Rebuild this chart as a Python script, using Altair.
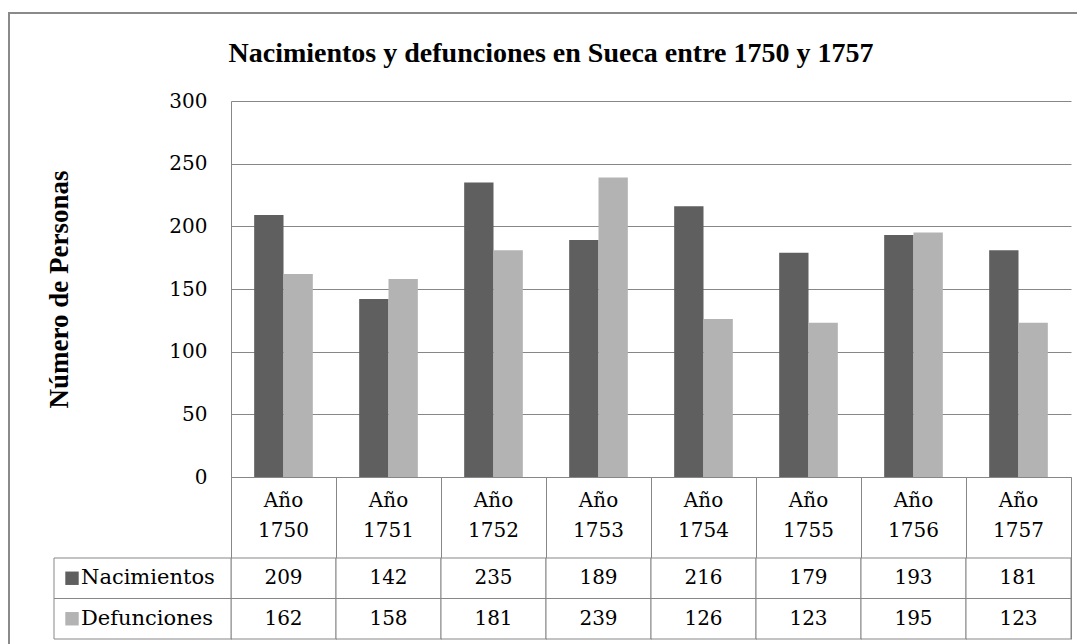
import altair as alt
import pandas as pd

# ---- data ----
years = ["1750", "1751", "1752", "1753", "1754", "1755", "1756", "1757"]
series = ["Nacimientos", "Defunciones"]
nacimientos = [209, 142, 235, 189, 216, 179, 193, 181]
defunciones = [162, 158, 181, 239, 126, 123, 195, 123]
y_ticks = [0, 50, 100, 150, 200, 250, 300]
header_word = "Año"
chart_title = "Nacimientos y defunciones en Sueca entre 1750 y 1757"
y_title = "Número de Personas"

# ---- styling ----
colors = ["#5f5f5f", "#b3b3b3"]
line = "#878787"
font = "Liberation Serif"
rfont = "DejaVu Serif"
W, H = 840, 376
TABLE_H = 162
FS = 20

rows = []
for name, vals in zip(series, [nacimientos, defunciones]):
    for yr, v in zip(years, vals):
        rows.append({"year": yr, "series": name, "value": v})
df = pd.DataFrame(rows)
leg_df = pd.DataFrame({"series": series})
hdr_df = pd.DataFrame({"year": years,
                       "word": [header_word] * len(years),
                       "b1": ["h1"] * len(years),
                       "b2": ["h2"] * len(years)})
one = pd.DataFrame({"t": [chart_title]})

x_axis = alt.Axis(title=None, labels=False, ticks=True, tickBand="extent",
                  tickSize=TABLE_H, tickColor=line, tickWidth=1,
                  domainColor=line, domainWidth=1, grid=False)
x_enc = alt.X("year:N", sort=years,
              scale=alt.Scale(domain=years, paddingInner=0, paddingOuter=0),
              axis=x_axis)

tscale = alt.Scale(domain=["h1", "h2"] + series, range=[H, H + TABLE_H],
                   paddingInner=0, paddingOuter=0)
color_enc = alt.Color("series:N", scale=alt.Scale(domain=series, range=colors), legend=None)

bars = alt.Chart(df).mark_bar().encode(
    x=x_enc,
    xOffset=alt.XOffset("series:N", sort=series,
                        scale=alt.Scale(domain=series, paddingInner=0, paddingOuter=0.79)),
    y=alt.Y("value:Q", scale=alt.Scale(domain=[0, 300]),
            axis=alt.Axis(values=y_ticks, title=y_title, grid=True, gridColor=line,
                          gridWidth=1, ticks=False, domainColor=line, domainWidth=1,
                          labelFont=rfont, labelFontSize=FS, labelColor="black",
                          labelPadding=24,
                          titleFont=font, titleFontSize=27, titleFontWeight="bold",
                          titleColor="black", titleAngle=270, titleX=-172, titleY=188,
                          titleAlign="center", titleBaseline="middle")),
    color=color_enc,
)

leg_cells = alt.Chart(leg_df).mark_rect(fill="white", stroke=line, strokeWidth=1).encode(
    x=alt.value(-177), x2=alt.value(0),
    y=alt.Y("series:N", scale=tscale, axis=None),
)
leg_sq = alt.Chart(leg_df).mark_square(size=180, opacity=1).encode(
    x=alt.value(-159),
    y=alt.Y("series:N", scale=tscale, axis=None),
    color=color_enc,
)
leg_txt = alt.Chart(leg_df).mark_text(align="left", baseline="middle", font=rfont,
                                      fontSize=21, color="black").encode(
    x=alt.value(-150),
    y=alt.Y("series:N", scale=tscale, axis=None),
    text="series:N",
)
cells = alt.Chart(df).mark_rect(fill="white", stroke=line, strokeWidth=1).encode(
    x=x_enc,
    y=alt.Y("series:N", scale=tscale, axis=None),
)
cell_txt = alt.Chart(df).mark_text(baseline="middle", font=rfont, fontSize=FS,
                                   color="black").encode(
    x=x_enc,
    y=alt.Y("series:N", scale=tscale, axis=None),
    text="value:Q",
)
hdr_word = alt.Chart(hdr_df).mark_text(baseline="middle", font=rfont, fontSize=FS,
                                       color="black", dy=4).encode(
    x=x_enc,
    y=alt.Y("b1:N", scale=tscale, axis=None),
    text="word:N",
)
hdr_year = alt.Chart(hdr_df).mark_text(baseline="middle", font=rfont, fontSize=FS,
                                       color="black", dy=-7).encode(
    x=x_enc,
    y=alt.Y("b2:N", scale=tscale, axis=None),
    text="year:N",
)
frame = alt.Chart(one).mark_rect(fill="white", fillOpacity=0, stroke="#8a8a8a",
                                 strokeWidth=2).encode(
    x=alt.value(-222), x2=alt.value(900), y=alt.value(-88), y2=alt.value(700),
)
title_txt = alt.Chart(one).mark_text(font=font, fontSize=28, fontWeight="bold",
                                     color="black", baseline="alphabetic",
                                     align="center").encode(
    x=alt.value(320), y=alt.value(-39), text="t:N",
)

chart = alt.layer(
    frame, bars, cells, leg_cells, leg_sq, leg_txt, cell_txt, hdr_word, hdr_year, title_txt
).resolve_scale(y="independent").properties(
    width=W, height=H,
    autosize=alt.AutoSizeParams(type="none"),
    padding={"left": 223, "top": 93, "right": 6, "bottom": 167},
    background="white",
).configure_view(strokeWidth=0)

chart.save("out.html", embed_options={"renderer": "svg", "actions": False})
